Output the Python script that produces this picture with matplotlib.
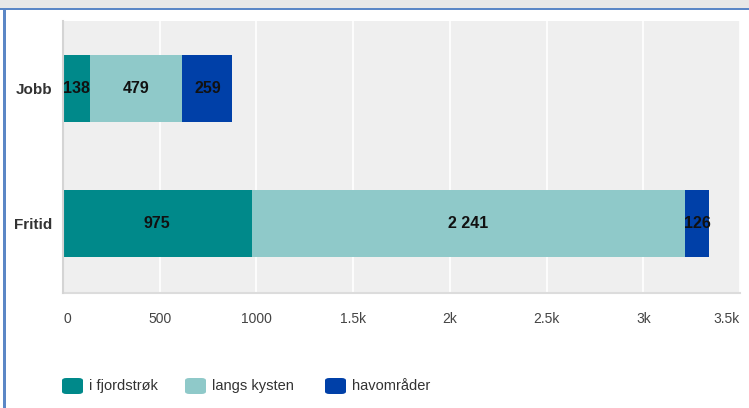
import matplotlib.pyplot as plt
from matplotlib.patches import Rectangle, FancyBboxPatch


# --------------------------------
# Data
# --------------------------------

categories = ["Jobb", "Fritid"]
series_names = ["i fjordstrøk", "langs kysten", "havområder"]
fjord = [138, 975]
kyst = [479, 2241]
hav = [259, 126]
colors = ["#00898a", "#8fc9c9", "#0040a8"]

xticks = [0, 500, 1000, 1500, 2000, 2500, 3000, 3500]
xtick_labels = ["0", "500", "1000", "1.5k", "2k", "2.5k", "3k", "3.5k"]


def fmt(v):
    # Norwegian thousands separator (space)
    return f"{v:,}".replace(",", " ")


# --------------------------------
# Figure frame
# --------------------------------

W, H = 749, 408
fig = plt.figure(figsize=(W / 100, H / 100), dpi=100)
fig.patch.set_facecolor("white")

# grey band on top and blue border lines
fig.add_artist(Rectangle((0, 1 - 8 / H), 1, 8 / H, transform=fig.transFigure,
                         facecolor="#e8e8e8", edgecolor="none"))
fig.add_artist(Rectangle((0, 1 - 10 / H), 1, 2.5 / H, transform=fig.transFigure,
                         facecolor="#5b87c6", edgecolor="none"))
fig.add_artist(Rectangle((3 / W, 0), 2.5 / W, 1 - 8 / H, transform=fig.transFigure,
                         facecolor="#5b87c6", edgecolor="none"))

ax = fig.add_axes([63 / W, 1 - 293 / H, (740 - 63) / W, (293 - 21) / H])
ax.set_facecolor("#efefef")


# --------------------------------
# Stacked bars
# --------------------------------

ypos = list(range(len(categories)))
left = [0] * len(categories)
for vals, col in zip([fjord, kyst, hav], colors):
    ax.barh(ypos, vals, left=left, height=0.5, color=col, edgecolor="none", zorder=3)
    for y, v, l in zip(ypos, vals, left):
        ax.text(l + v / 2, y, fmt(v), ha="center", va="center",
                fontsize=11.5, fontweight="bold", color="#111111",
                family="Liberation Sans", zorder=4)
    left = [a + b for a, b in zip(left, vals)]

ax.set_xlim(0, 3500)
ax.set_ylim(1.515, -0.5)

ax.set_xticks(xticks)
ax.set_xticklabels(xtick_labels, fontsize=10, color="#444444", family="Liberation Sans")
tl = ax.get_xticklabels()
tl[0].set_ha("left")
tl[-1].set_ha("right")
ax.tick_params(axis="x", length=0, pad=14)

ax.set_yticks(ypos)
ax.set_yticklabels(categories, fontsize=11, fontweight="bold", color="#333333",
                   family="Liberation Sans")
ax.tick_params(axis="y", length=0, pad=8)

ax.grid(axis="x", color="white", linewidth=1.2, zorder=1)
ax.set_axisbelow(True)

for s in ["top", "right"]:
    ax.spines[s].set_visible(False)
ax.spines["left"].set_color("#d4d4d4")
ax.spines["left"].set_linewidth(1.5)
ax.spines["left"].set_zorder(5)
ax.spines["bottom"].set_color("#dcdcdc")
ax.spines["bottom"].set_linewidth(1.5)


# --------------------------------
# Legend (drawn by hand to match placement)
# --------------------------------

legend_x = [62, 185, 325]
for x, name, col in zip(legend_x, series_names, colors):
    fig.add_artist(FancyBboxPatch((x / W, 1 - 394 / H), 21 / W, 16 / H,
                                  boxstyle="round,pad=0,rounding_size=0.006",
                                  transform=fig.transFigure,
                                  facecolor=col, edgecolor="none"))
    fig.text((x + 27) / W, 1 - 386 / H, name, ha="left", va="center",
             fontsize=10.5, color="#333333", family="Liberation Sans")

fig.savefig("out.png", dpi=100)
